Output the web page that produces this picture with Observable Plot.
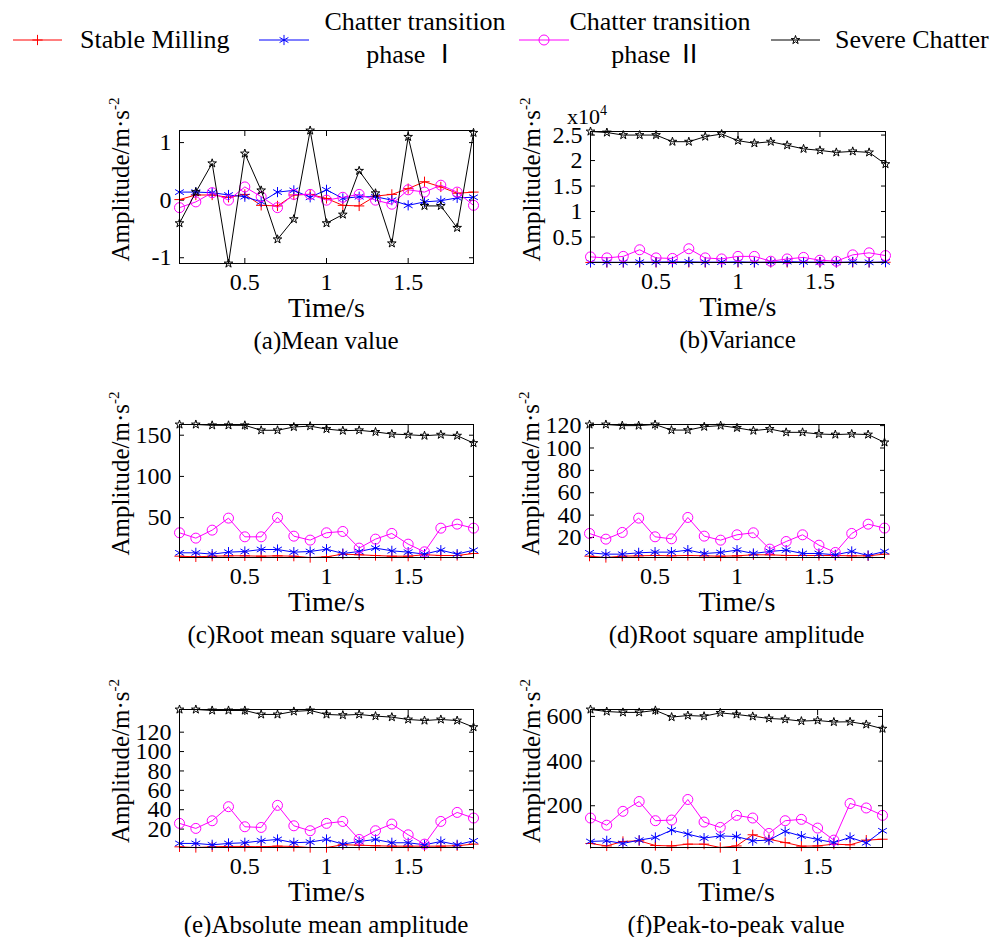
<!DOCTYPE html>
<html><head><meta charset="utf-8">
<script src="https://cdn.jsdelivr.net/npm/d3@7"></script>
<script src="https://cdn.jsdelivr.net/npm/@observablehq/plot@0.6"></script>
<style>
body{margin:0;background:#fff;}
#root{position:relative;width:1003px;height:937px;background:#fff;font-family:"Liberation Serif","Times New Roman","Noto Sans CJK SC",serif;color:#000;overflow:hidden}
.panel{position:absolute}
.cap{position:absolute;font-size:25px;transform:translate(-50%,-50%);white-space:nowrap;line-height:1}
.leg{position:absolute;font-size:26px;white-space:nowrap;line-height:1}
.legc{transform:translate(-50%,-50%)}
.legl{transform:translate(0,-50%)}
</style></head><body><div id="root"></div>
<script>
// ---------- data ----------
const time = [0.1,0.2,0.3,0.4,0.5,0.6,0.7,0.8,0.9,1.0,1.1,1.2,1.3,1.4,1.5,1.6,1.7,1.8,1.9];
const seriesNames = ["Stable Milling","Chatter transition phase Ⅰ","Chatter transition phase Ⅱ","Severe Chatter"];
const xTicks = [0.5,1,1.5];

const meanStable = [0.01,0.09,0.09,0.05,0.10,-0.09,-0.10,0.09,0.10,0.03,-0.09,-0.10,0.07,0.10,0.20,0.32,0.23,0.12,0.14];
const meanPhase1 = [0.14,0.14,0.13,0.09,0.06,-0.03,0.14,0.17,0.05,0.18,0.03,0.06,0.06,0.00,-0.09,-0.03,-0.01,0.04,0.05];
const meanPhase2 = [-0.13,-0.03,0.13,0.00,0.23,0.06,-0.13,0.10,0.10,0.00,0.05,0.10,0.00,-0.07,0.18,0.14,0.26,0.14,-0.09];
const meanSevere = [-0.40,0.14,0.64,-1.10,0.81,0.17,-0.68,-0.33,1.21,-0.40,-0.25,0.51,0.12,-0.75,1.10,-0.10,-0.10,-0.48,1.17];
const meanTicks = [-1,0,1];

const varStable = [10,6,10,13,13,10,13,10,3,6,32,24,16,10,10,24,16,16,42];
const varPhase1 = [53,53,32,66,79,128,128,66,79,137,42,79,169,94,66,32,110,32,110];
const varPhase2 = [1100,900,1200,2500,900,800,2700,900,700,1200,1200,250,700,1000,450,250,1500,1900,1360];
const varSevere = [25700,25500,25000,25000,25000,23700,23700,24700,25200,23900,23400,23700,23000,22300,22000,21600,21800,21600,19300];
const varTicks = [5000,10000,15000,20000,25000];

const rmsStable = [3.2,2.4,3.2,3.6,3.6,3.2,3.6,3.2,1.6,2.4,5.7,4.9,4.0,3.2,3.2,4.9,4.0,4.0,6.5];
const rmsPhase1 = [7.3,7.3,5.7,8.1,8.9,11.3,11.3,8.1,8.9,11.7,6.5,8.9,13.0,9.7,8.1,5.7,10.5,5.7,10.5];
const rmsPhase2 = [31.6,25.1,34.8,49.4,26.7,26.7,50.2,27.5,22.7,31.6,33.2,13.0,23.9,30.8,17.8,8.5,37.2,42.1,37.2];
const rmsSevere = [163,163,162,162,162,156,156,160,161,157.5,155.5,156,154,151.4,150.6,149.4,150.6,149.4,140.5];
const rmsTicks = [50,100,150];

const rsaStable = [3.3,2.1,3.3,3.6,3.9,3.6,3.9,3.6,3.3,3.6,4.5,4.5,3.9,3.9,3.9,3.9,3.6,3.6,5.1];
const rsaPhase1 = [6.3,5.1,5.1,6.3,6.9,6.9,8.7,5.7,6.6,8.7,5.7,7.5,8.7,5.7,5.7,4.5,7.5,3.9,7.5];
const rsaPhase2 = [23.6,18.5,24.5,37.3,20.6,18.8,37.9,21.2,17.6,22.4,24.2,9.6,16.4,22.4,13.1,6.6,23.6,31.9,28.4];
const rsaSevere = [121,121,120,120,121,116,116,119,120,118,115.5,117,114,114,112.5,112,112.5,112,105];
const rsaTicks = [20,40,60,80,100,120];

const amaStable = [1.7,1.0,1.7,2.1,2.1,1.7,2.4,2.1,1.0,1.0,3.8,3.4,2.8,2.4,2.4,2.4,2.4,2.8,4.5];
const amaPhase1 = [5.2,5.2,3.8,5.2,5.9,7.9,9.3,5.9,6.6,9.3,4.5,7.2,9.3,5.9,5.9,3.8,7.2,3.8,7.9];
const amaPhase2 = [25.9,20.7,28.6,43.1,22.4,21.7,44.5,23.4,18.3,25.9,27.9,9.3,18.3,25.2,14.1,4.5,27.9,37.2,31.4];
const amaSevere = [143.4,143.4,142.4,142.4,142.4,138.3,138.3,141.4,142.4,138.3,137.6,138.3,136.6,135.5,133.1,132,133.1,132,125.2];
const amaTicks = [20,40,60,80,100,120];

const p2pStable = [31,20,40,43,22,20,28,28,13,20,70,50,35,19,20,28,25,46,50];
const p2pPhase1 = [40,43,31,46,58,91,73,55,65,62,43,46,85,64,49,35,58,34,88];
const p2pPhase2 = [145,113,175,219,133,136,228,127,103,157,145,76,133,139,100,46,210,190,157];
const p2pSevere = [631,622,618,618,627,597,604,601,616,609,600,591,587,579,582,575,576,564,545];
const p2pTicks = [200,400,600];

const captions = ["(a)Mean value","(b)Variance","(c)Root mean square value)","(d)Root square amplitude","(e)Absolute mean amplitude","(f)Peak-to-peak value"];

// ---------- styles ----------
const FONT = '"Liberation Serif","Times New Roman",serif';
const styles = [
  {color:"#ff0000", symbol:"plus", r:3.4},
  {color:"#0000ff", symbol:"asterisk", r:4.8},
  {color:"#ff00ff", symbol:"circle", r:5},
  {color:"#000000", symbol:"star", r:2.7}
];

const panels = [
  {frame:[179,130,473,263], series:[meanStable,meanPhase1,meanPhase2,meanSevere], domain:[-1.1,1.21], ticks:meanTicks, fmt:d=>String(d)},
  {frame:[590,131,885,262], series:[varStable,varPhase1,varPhase2,varSevere], domain:[0,25700], ticks:varTicks, fmt:d=>String(d/10000), exp:true},
  {frame:[179,424,473,557], series:[rmsStable,rmsPhase1,rmsPhase2,rmsSevere], domain:[1.6,163], ticks:rmsTicks, fmt:d=>String(d)},
  {frame:[589,424,884,557], series:[rsaStable,rsaPhase1,rsaPhase2,rsaSevere], domain:[2.1,121], ticks:rsaTicks, fmt:d=>String(d)},
  {frame:[179,709,473,847], series:[amaStable,amaPhase1,amaPhase2,amaSevere], domain:[1,143.4], ticks:amaTicks, fmt:d=>String(d)},
  {frame:[590,709,882,847], series:[p2pStable,p2pPhase1,p2pPhase2,p2pSevere], domain:[13,631], ticks:p2pTicks, fmt:d=>String(d)}
];

const root = document.getElementById("root");
const mL = 90, mT = 45, mR = 20, mB = 70;

panels.forEach((p, pi) => {
  const [fl, ft, fr, fb] = p.frame;
  const fw = fr - fl, fh = fb - ft;
  const marks = [];
  p.series.forEach((arr, si) => {
    const rows = time.map((t, i) => ({t, v: arr[i]}));
    const st = styles[si];
    marks.push(Plot.line(rows, {x:"t", y:"v", stroke:st.color, strokeWidth:1}));
    marks.push(Plot.dot(rows, {x:"t", y:"v", symbol:st.symbol, r:st.r, stroke:st.color, fill:"none", strokeWidth:1}));
  });
  const svg = Plot.plot({
    width: fw + mL + mR, height: fh + mT + mB,
    marginLeft: mL, marginTop: mT, marginRight: mR, marginBottom: mB,
    style: {fontFamily: FONT, fontSize: "24px", background: "transparent", overflow: "visible", color: "#000"},
    x: {domain: [0.1, 1.9]},
    y: {domain: p.domain},
    marks: [
      Plot.axisX(xTicks, {anchor:"bottom", tickSize:-5, tickPadding:14, tickFormat:d=>String(d), label:null, fontSize:24}),
      Plot.axisX(xTicks, {anchor:"top", tickSize:-5, tickFormat:()=>"", label:null}),
      Plot.axisY(p.ticks, {anchor:"left", tickSize:-5, tickPadding:13, tickFormat:p.fmt, label:null, fontSize:24}),
      Plot.axisY(p.ticks, {anchor:"right", tickSize:-5, tickFormat:()=>"", label:null}),
      Plot.text(["Time/s"], {text:d=>d, frameAnchor:"bottom", dy:53, fontSize:28}),
      ...marks,
      Plot.frame({stroke:"#000", strokeWidth:1})
    ]
  });
  const s = d3.select(svg);
  const yl = s.append("text")
    .attr("transform", `translate(${mL - 50},${mT + fh/2 - 17}) rotate(-90)`)
    .attr("text-anchor","middle").attr("font-family",FONT).attr("font-size",25).attr("fill","#000");
  yl.append("tspan").text("Amplitude/m·s");
  yl.append("tspan").attr("font-size",15).attr("dy",-10).text("-2");
  if (p.exp) {
    const ex = s.append("text").attr("x", mL - 3).attr("y", mT - 7)
      .attr("font-family",FONT).attr("font-size",22).attr("fill","#000");
    ex.append("tspan").text("x10");
    ex.append("tspan").attr("font-size",14).attr("dy",-9).text("4");
  }
  svg.classList.add("panel");
  svg.style.left = (fl - mL) + "px";
  svg.style.top = (ft - mT) + "px";
  root.appendChild(svg);

  const cap = document.createElement("div");
  cap.className = "cap";
  cap.textContent = captions[pi];
  cap.style.left = ((fl + fr)/2) + "px";
  cap.style.top = (fb + 77) + "px";
  root.appendChild(cap);
});

// ---------- legend ----------
const legSvg = d3.create("svg").attr("width",1003).attr("height",80)
  .style("position","absolute").style("left","0px").style("top","0px");
const legItems = [
  {x1:13, x2:62}, {x1:259, x2:309}, {x1:519, x2:569}, {x1:771, x2:820}
];
const symMap = {plus:d3.symbolPlus, asterisk:d3.symbolAsterisk, circle:d3.symbolCircle, star:d3.symbolStar};
legItems.forEach((it, i) => {
  const st = styles[i];
  legSvg.append("line").attr("x1",it.x1).attr("x2",it.x2).attr("y1",40).attr("y2",40)
    .attr("stroke",st.color).attr("stroke-width",1);
  legSvg.append("path").attr("transform",`translate(${(it.x1+it.x2)/2},40)`)
    .attr("d", d3.symbol().type(symMap[st.symbol]).size(Math.PI*st.r*st.r)())
    .attr("fill","none").attr("stroke",st.color).attr("stroke-width",1);
});
root.appendChild(legSvg.node());

function legText(txt, x, y, cls) {
  const d = document.createElement("div");
  d.className = "leg " + cls;
  d.textContent = txt;
  d.style.left = x + "px"; d.style.top = y + "px";
  root.appendChild(d);
}
legText("Stable Milling", 80, 40, "legl");
legText("Chatter transition", 415, 22, "legc");
legText("phase Ⅰ", 412, 55, "legc");
legText("Chatter transition", 660, 22, "legc");
legText("phase Ⅱ", 657, 55, "legc");
legText("Severe Chatter", 835, 40, "legl");
</script>
</body></html>
